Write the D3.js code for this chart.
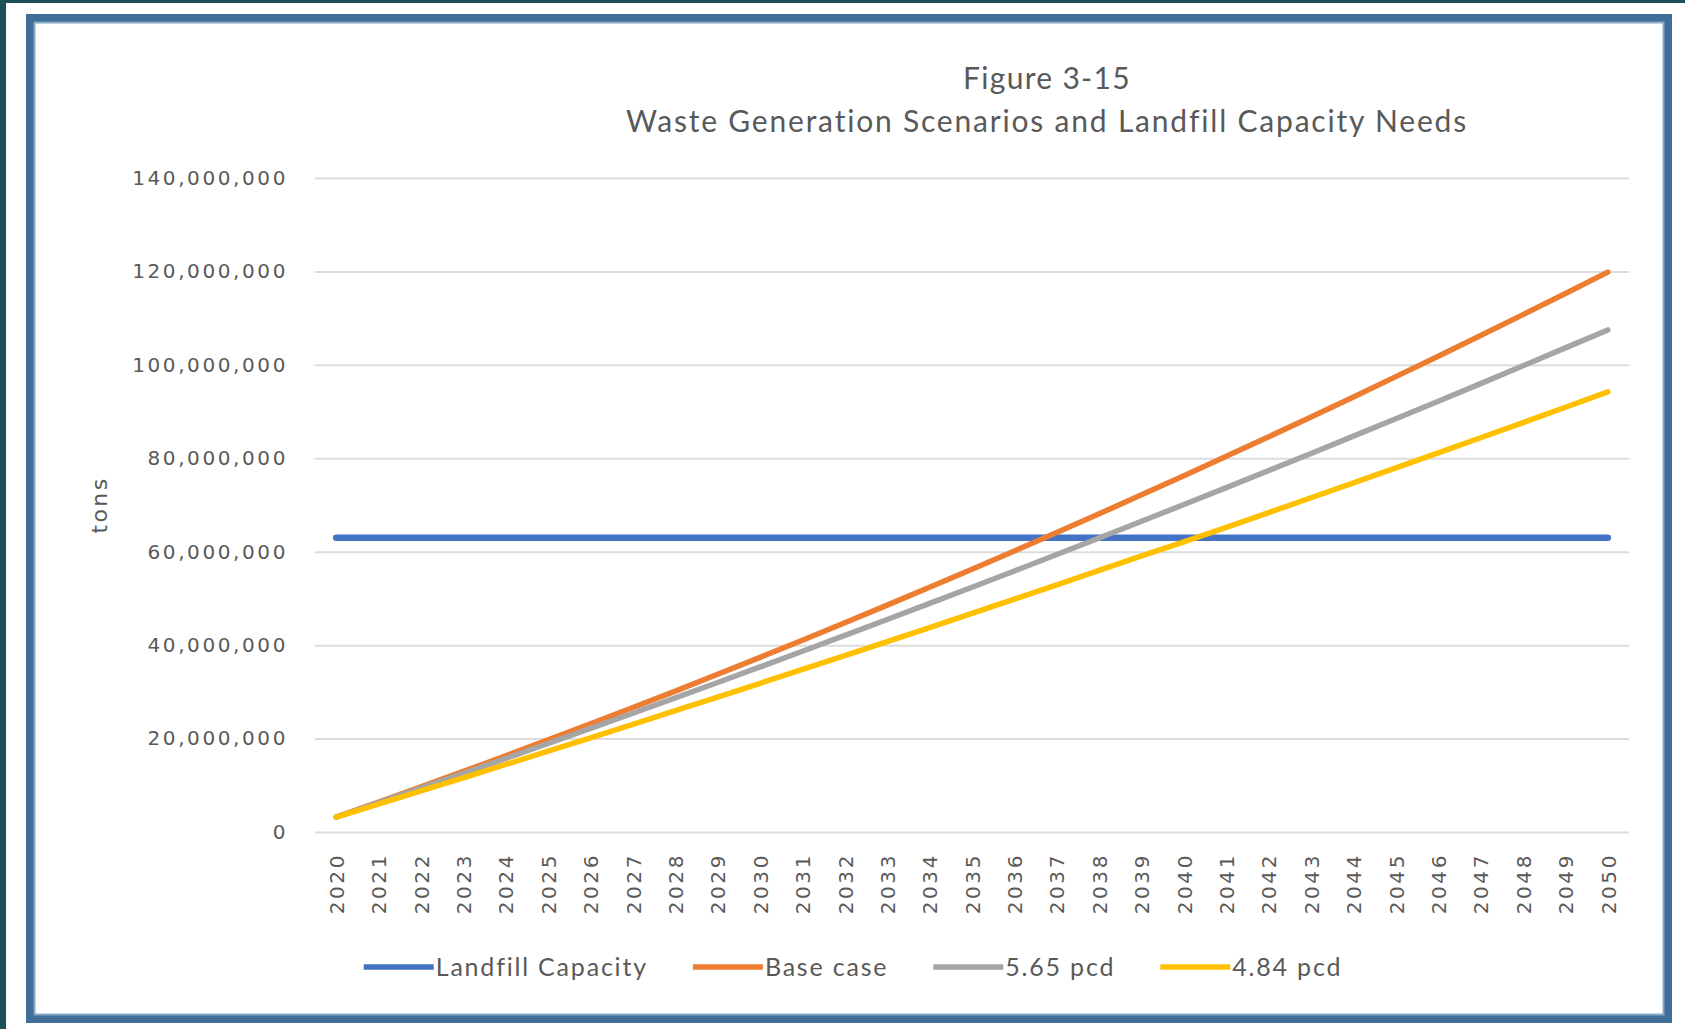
<!DOCTYPE html>
<html>
<head>
<meta charset="utf-8">
<script src="https://cdn.jsdelivr.net/npm/d3@7/dist/d3.min.js"></script>
<style>
  html, body { margin: 0; padding: 0; background: #ffffff; }
  svg { display: block; }
</style>
</head>
<body>
<svg id="chart" width="1685" height="1029"></svg>
<script>
// ---------------- DATA ----------------
const years = [2020, 2021, 2022, 2023, 2024, 2025, 2026, 2027, 2028, 2029,
               2030, 2031, 2032, 2033, 2034, 2035, 2036, 2037, 2038, 2039,
               2040, 2041, 2042, 2043, 2044, 2045, 2046, 2047, 2048, 2049, 2050];

const landfillCapacity = [63000000, 63000000, 63000000, 63000000, 63000000, 63000000, 63000000, 63000000,
                          63000000, 63000000, 63000000, 63000000, 63000000, 63000000, 63000000, 63000000,
                          63000000, 63000000, 63000000, 63000000, 63000000, 63000000, 63000000, 63000000,
                          63000000, 63000000, 63000000, 63000000, 63000000, 63000000, 63000000];

const baseCase = [3200000, 6410000, 9660000, 12960000, 16310000, 19710000, 23150000, 26640000,
                  30170000, 33760000, 37390000, 41060000, 44790000, 48560000, 52380000, 56240000,
                  60150000, 64110000, 68120000, 72170000, 76270000, 80420000, 84610000, 88850000,
                  93140000, 97480000, 101860000, 106290000, 110760000, 115290000, 119860000];

const pcd565 = [3200000, 6300000, 9420000, 12570000, 15740000, 18940000, 22170000, 25420000,
                28700000, 32010000, 35340000, 38700000, 42080000, 45490000, 48930000, 52390000,
                55880000, 59400000, 62940000, 66510000, 70100000, 73720000, 77370000, 81040000,
                84740000, 88470000, 92220000, 95990000, 99800000, 103630000, 107480000];

const pcd484 = [3200000, 5990000, 8790000, 11610000, 14450000, 17300000, 20170000, 23060000,
                25970000, 28890000, 31830000, 34790000, 37770000, 40760000, 43770000, 46800000,
                49850000, 52910000, 55990000, 59090000, 62100000, 65230000, 68380000, 71550000,
                74730000, 77940000, 81140000, 84390000, 87640000, 90920000, 94200000];

const seriesNames = ["Landfill Capacity", "Base case", "5.65 pcd", "4.84 pcd"];
const seriesValues = [landfillCapacity, baseCase, pcd565, pcd484];
const seriesColors = ["#4472C4", "#ED7D31", "#A5A5A5", "#FFC000"];

const yTickValues = [0, 20000000, 40000000, 60000000, 80000000, 100000000, 120000000, 140000000];

const titleLines = ["Figure 3-15", "Waste Generation Scenarios and Landfill Capacity Needs"];
const yAxisTitle = "tons";

// ---------------- LAYOUT ----------------
const W = 1685, H = 1029;
const plot = { left: 315, right: 1629, top: 178, bottom: 832 };
const textColor = "#595959";

const svg = d3.select("#chart");

// page background pieces
svg.append("rect").attr("x", 0).attr("y", 0).attr("width", W).attr("height", H).attr("fill", "#ffffff");
svg.append("rect").attr("x", 0).attr("y", 0).attr("width", W).attr("height", 3).attr("fill", "#1d4f58");
svg.append("rect").attr("x", 0).attr("y", 0).attr("width", 6).attr("height", H).attr("fill", "#1d4f58");

// frame
svg.append("rect").attr("x", 30.5).attr("y", 18.5).attr("width", 1637).attr("height", 1000)
  .attr("fill", "#ffffff").attr("stroke", "#3f6f98").attr("stroke-width", 9);
svg.append("rect").attr("x", 34.5).attr("y", 22.5).attr("width", 1629).attr("height", 992)
  .attr("fill", "none").attr("stroke", "#86a9c6").attr("stroke-width", 2);

// scales
const x = d3.scalePoint().domain(years).range([plot.left, plot.right]).padding(0.5);
const y = d3.scaleLinear().domain([0, 140000000]).range([plot.bottom, plot.top]);

// gridlines via axis
const grid = svg.append("g").attr("transform", `translate(${plot.left},0)`)
  .call(d3.axisLeft(y).tickValues(yTickValues).tickSize(-(plot.right - plot.left)).tickFormat(""));
grid.select(".domain").remove();
grid.selectAll(".tick line").attr("stroke", "#dcdcdc").attr("stroke-width", 2);

// y axis labels
const yAxis = svg.append("g").attr("transform", `translate(288,0)`)
  .call(d3.axisLeft(y).tickValues(yTickValues).tickSize(0).tickPadding(0).tickFormat(d3.format(",")));
yAxis.select(".domain").remove();
yAxis.selectAll(".tick text")
  .attr("fill", textColor)
  .style("font-family", "'DejaVu Sans', sans-serif")
  .style("font-size", "20px")
  .style("letter-spacing", "2.6px");

// x axis labels (rotated)
const xAxis = svg.append("g").attr("transform", `translate(0,${plot.bottom})`)
  .call(d3.axisBottom(x).tickSize(0).tickFormat(d => String(d)));
xAxis.select(".domain").remove();
xAxis.selectAll(".tick text")
  .attr("fill", textColor)
  .style("font-family", "'DejaVu Sans', sans-serif")
  .style("font-size", "20px")
  .style("letter-spacing", "2.6px")
  .attr("text-anchor", "end")
  .attr("transform", "rotate(-90)")
  .attr("x", -21)
  .attr("y", 0)
  .attr("dy", "0.36em");

// y axis title
svg.append("text")
  .attr("transform", "translate(99,505) rotate(-90)")
  .attr("text-anchor", "middle")
  .attr("dy", "0.35em")
  .attr("fill", textColor)
  .style("font-family", "'DejaVu Sans', sans-serif")
  .style("font-size", "22px")
  .style("letter-spacing", "2.4px")
  .text(yAxisTitle);

// title
svg.append("text").attr("x", 1047).attr("y", 89)
  .attr("text-anchor", "middle").attr("fill", textColor)
  .style("font-family", "Lato, sans-serif").style("font-size", "30px")
  .style("letter-spacing", "1.3px")
  .text(titleLines[0]);
svg.append("text").attr("x", 1047).attr("y", 132)
  .attr("text-anchor", "middle").attr("fill", textColor)
  .style("font-family", "Lato, sans-serif").style("font-size", "30px")
  .style("letter-spacing", "1.8px")
  .text(titleLines[1]);

// lines
const line = d3.line().x((d, i) => x(years[i])).y(d => y(d));
svg.append("g").selectAll("path")
  .data(seriesValues)
  .join("path")
  .attr("d", d => line(d))
  .attr("fill", "none")
  .attr("stroke", (d, i) => seriesColors[i])
  .attr("stroke-width", (d, i) => i === 0 ? 6.5 : 5.5)
  .attr("stroke-linecap", "round")
  .attr("stroke-linejoin", "round");

// legend
const legendY = 967;
const swatchLen = 70, textGap = 2, itemGap = 45;
const lg = svg.append("g");
const items = lg.selectAll("g").data(seriesNames).join("g");
items.append("line")
  .attr("x1", 0).attr("x2", swatchLen).attr("y1", 0).attr("y2", 0)
  .attr("stroke", (d, i) => seriesColors[i]).attr("stroke-width", 5.5);
items.append("text")
  .attr("x", swatchLen + textGap).attr("dy", "0.35em")
  .attr("fill", textColor)
  .style("font-family", "Lato, sans-serif").style("font-size", "25px")
  .style("letter-spacing", "1.8px")
  .text(d => d);
let widths = [];
items.each(function () { widths.push(swatchLen + textGap + this.querySelector("text").getComputedTextLength()); });
const total = d3.sum(widths) + itemGap * (widths.length - 1);
let cx = 853 - total / 2;
items.attr("transform", (d, i) => {
  const t = `translate(${cx},${legendY})`;
  cx += widths[i] + itemGap;
  return t;
});
</script>
</body>
</html>
